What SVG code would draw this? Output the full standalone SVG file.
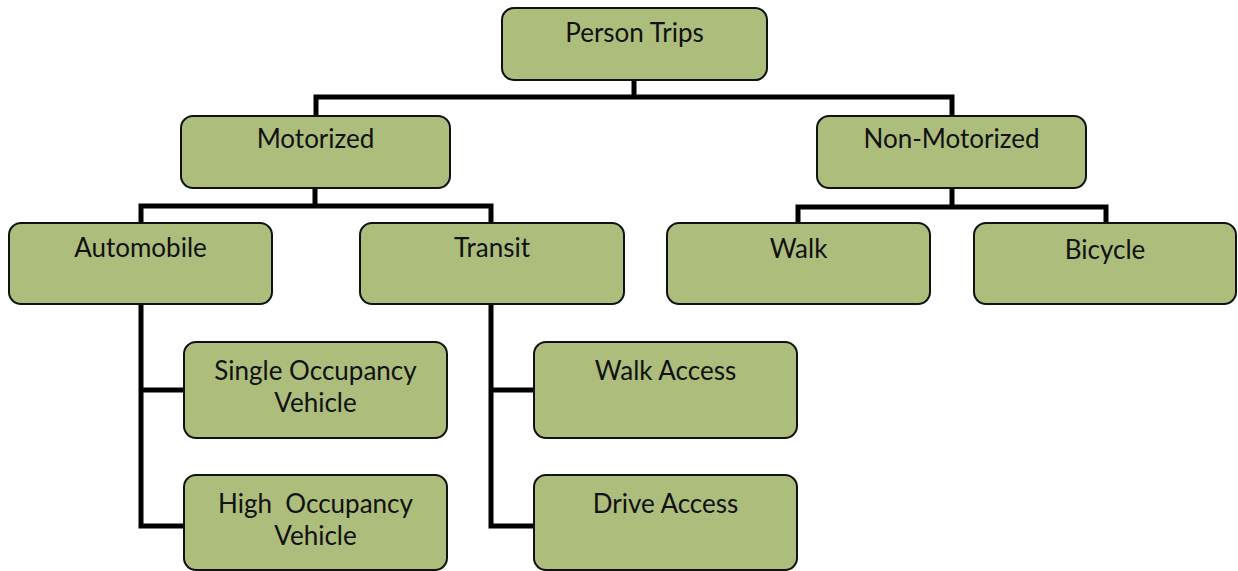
<svg xmlns="http://www.w3.org/2000/svg" width="1238" height="571" viewBox="0 0 1238 571">
<style>
.box{fill:#adbd7b;stroke:#111;stroke-width:2}
.lbl{font-family:Lato,"Open Sans",sans-serif;font-size:26px;fill:#111;text-anchor:middle}
.con{fill:none;stroke:#000;stroke-width:5;stroke-linejoin:miter;stroke-linecap:square}
</style>
<rect width="1238" height="571" fill="#fff"/>
<g id="connectors">
<path class="con" d="M634 81V97M316 116V97H952V116"/>
<path class="con" d="M315 188V206M141 223V206H491V223"/>
<path class="con" d="M952 188V207M798 223V207H1106V223"/>
<path class="con" d="M141 304V526H184M141 390H184"/>
<path class="con" d="M491 304V526H534M491 390H534"/>
</g>
<g id="person-trips"><rect class="box" x="502" y="8" width="265" height="72" rx="12"/><text class="lbl" x="634.5" y="42">Person Trips</text></g>
<g id="motorized"><rect class="box" x="181" y="116" width="269" height="72" rx="12"/><text class="lbl" x="315.5" y="148">Motorized</text></g>
<g id="non-motorized"><rect class="box" x="817" y="116" width="269" height="72" rx="12"/><text class="lbl" x="951.5" y="148">Non-Motorized</text></g>
<g id="automobile"><rect class="box" x="9" y="223" width="263" height="81" rx="12"/><text class="lbl" x="140.5" y="257">Automobile</text></g>
<g id="transit"><rect class="box" x="360" y="223" width="264" height="81" rx="12"/><text class="lbl" x="492" y="257">Transit</text></g>
<g id="walk"><rect class="box" x="667" y="223" width="263" height="81" rx="12"/><text class="lbl" x="798.5" y="258">Walk</text></g>
<g id="bicycle"><rect class="box" x="974" y="223" width="262" height="81" rx="12"/><text class="lbl" x="1105" y="259">Bicycle</text></g>
<g id="sov"><rect class="box" x="184" y="342" width="263" height="96" rx="12"/><text class="lbl" x="315.5" y="380">Single Occupancy</text><text class="lbl" x="315.5" y="412">Vehicle</text></g>
<g id="hov"><rect class="box" x="184" y="475" width="263" height="95" rx="12"/><text class="lbl" x="315.5" y="513" xml:space="preserve">High  Occupancy</text><text class="lbl" x="315.5" y="545">Vehicle</text></g>
<g id="walk-access"><rect class="box" x="534" y="342" width="263" height="96" rx="12"/><text class="lbl" x="665.5" y="380">Walk Access</text></g>
<g id="drive-access"><rect class="box" x="534" y="475" width="263" height="95" rx="12"/><text class="lbl" x="665.5" y="513">Drive Access</text></g>
</svg>
